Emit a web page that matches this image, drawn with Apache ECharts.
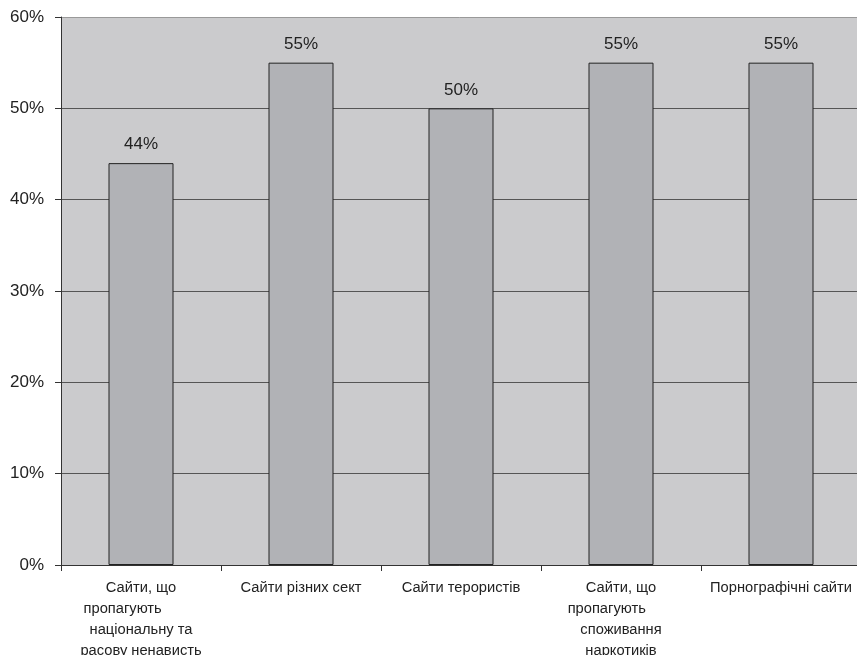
<!DOCTYPE html>
<html>
<head>
<meta charset="utf-8">
<script src="https://cdn.jsdelivr.net/npm/echarts@6/dist/echarts.min.js"></script>
<style>
  html, body { margin: 0; padding: 0; background: #fff; }
  #chart { width: 857px; height: 655px; }
</style>
</head>
<body>
<div id="chart"></div>
<script>
// Categories of websites (multi-line labels)
const categories = [
  'Сайти, що\nпропагують\u00a0\u00a0\u00a0\u00a0\u00a0\u00a0\u00a0\u00a0\u00a0\nнаціональну та\nрасову ненависть',
  'Сайти різних сект',
  'Сайти терористів',
  'Сайти, що\nпропагують\u00a0\u00a0\u00a0\u00a0\u00a0\u00a0\u00a0\nспоживання\nнаркотиків',
  'Порнографічні сайти'
];
// Share of respondents, %
const values = [44, 55, 50, 55, 55];

const chart = echarts.init(document.getElementById('chart'));
chart.setOption({
  animation: false,
  grid: {
    left: 61, top: 17, width: 800, bottom: 90,
    outerBoundsMode: 'none', containLabel: false,
    show: true, backgroundColor: '#cbcbcd', borderWidth: 0
  },
  xAxis: {
    type: 'category',
    data: categories,
    boundaryGap: true,
    axisLine: { lineStyle: { color: '#333', width: 1 } },
    axisTick: { show: true, length: 6, lineStyle: { color: '#333' } },
    axisLabel: {
      interval: 0, margin: 12, color: '#222',
      fontFamily: 'Liberation Sans, Arial, sans-serif', fontSize: 14.7,
      lineHeight: 21, align: 'center'
    }
  },
  yAxis: {
    type: 'value',
    min: 0, max: 60, interval: 10,
    axisLine: { show: true, lineStyle: { color: '#333', width: 1 } },
    axisTick: { show: true, length: 6, lineStyle: { color: '#333' } },
    axisLabel: {
      formatter: '{value}%', color: '#222', margin: 17,
      fontFamily: 'Liberation Sans, Arial, sans-serif', fontSize: 17
    },
    splitLine: {
      show: true,
      lineStyle: { color: ['#555', '#555', '#555', '#555', '#555', '#555', '#999'], width: 1 }
    }
  },
  series: [{
    type: 'bar',
    data: values,
    barWidth: 65,
    itemStyle: { color: '#b1b2b6', borderColor: '#222', borderWidth: 1 },
    label: {
      show: true, position: 'top', distance: 10,
      formatter: '{c}%', color: '#222',
      fontFamily: 'Liberation Sans, Arial, sans-serif', fontSize: 17
    }
  }]
});
</script>
</body>
</html>
